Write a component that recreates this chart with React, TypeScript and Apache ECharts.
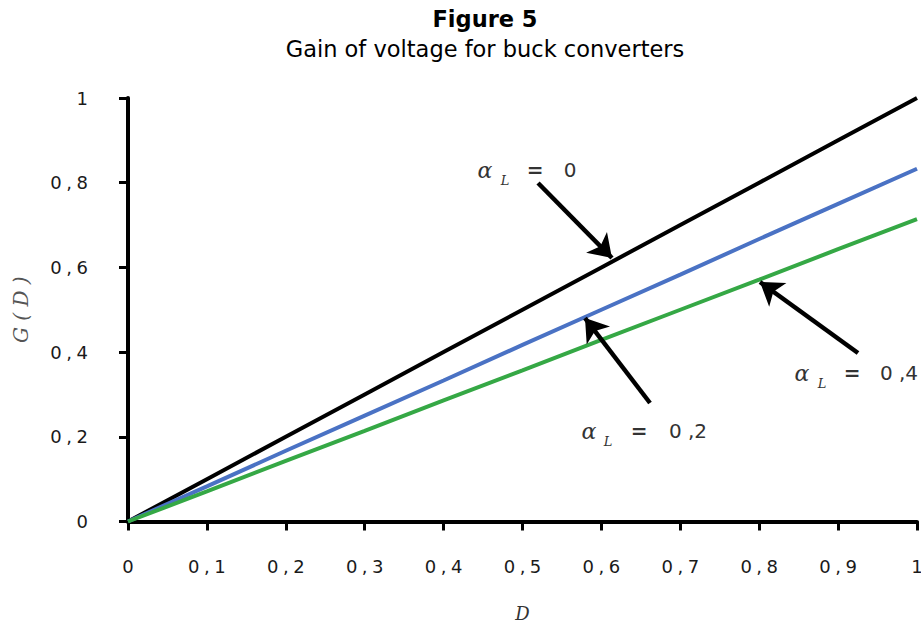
import React, { useEffect, useRef } from "react";
import * as echarts from "echarts";

// Data
const dutyCycle = [0, 0.1, 0.2, 0.3, 0.4, 0.5, 0.6, 0.7, 0.8, 0.9, 1];
const gainAlpha0 = [0, 0.1, 0.2, 0.3, 0.4, 0.5, 0.6, 0.7, 0.8, 0.9, 1];
const gainAlpha02 = [0, 0.083, 0.167, 0.25, 0.333, 0.417, 0.5, 0.583, 0.667, 0.75, 0.833];
const gainAlpha04 = [0, 0.071, 0.143, 0.214, 0.286, 0.357, 0.429, 0.5, 0.571, 0.643, 0.714];
const seriesNames = ["αL = 0", "αL = 0,2", "αL = 0,4"];
const seriesColors = ["#000000", "#4a72c4", "#35a845"];
// arrow annotations, in data coordinates [D, G]: from label towards curve
const arrows = [
  { from: [0.5197, 0.7993], to: [0.6134, 0.6222] },
  { from: [0.6616, 0.2798], to: [0.5792, 0.4805] },
  { from: [0.9252, 0.3979], to: [0.801, 0.5655] },
];
const annotationValues = ["0", "0 ,2", "0 ,4"];

const SP = "\u2005";
const fmt = (v: number) => {
  if (v === 0) return "0";
  if (v === 1) return "1";
  return "0" + SP + "," + SP + String(Math.round(v * 10));
};

export default function App() {
  const ref = useRef<HTMLDivElement>(null);
  useEffect(() => {
    if (!ref.current) return;
    const chart = echarts.init(ref.current, undefined, { renderer: "svg" });
    const gains = [gainAlpha0, gainAlpha02, gainAlpha04];
    const series: any[] = gains.map((g, i) => ({
      name: seriesNames[i],
      type: "line",
      data: dutyCycle.map((d, j) => [d, g[j]]),
      showSymbol: false,
      lineStyle: { color: seriesColors[i], width: 4 },
      itemStyle: { color: seriesColors[i] },
      z: 2 + i,
      silent: true,
    }));
    series[0].markLine = {
      silent: true,
      symbol: ["none", "arrow"],
      symbolSize: 22,
      lineStyle: { color: "#000", width: 4.5, type: "solid" },
      itemStyle: { color: "#000" },
      label: { show: false },
      emphasis: { disabled: true },
      z: 10,
      data: arrows.map((a) => [{ coord: a.from }, { coord: a.to }]),
    };

    const textColor = "#333";
    const labelPos = [
      { a: [485, 170], l: [505, 180], e: [535, 170], v: [570, 170] },
      { a: [589, 431], l: [608, 441], e: [639, 431], v: [688, 431] },
      { a: [802, 373], l: [822, 383], e: [852, 373], v: [899, 373] },
    ];
    const graphics: any[] = [
      {
        type: "text",
        x: 485,
        y: 19,
        style: {
          text: "Figure 5",
          font: "bold 22.5px 'DejaVu Sans'",
          fill: "#000",
          textAlign: "center",
          textVerticalAlign: "middle",
        },
      },
      {
        type: "text",
        x: 485,
        y: 49,
        style: {
          text: "Gain of voltage for buck converters",
          font: "22.5px 'DejaVu Sans'",
          fill: "#000",
          textAlign: "center",
          textVerticalAlign: "middle",
        },
      },
    ];
    labelPos.forEach((p, i) => {
      graphics.push(
        {
          type: "text",
          x: p.a[0],
          y: p.a[1],
          style: { text: "α", font: "italic 22px 'DejaVu Serif'", fill: textColor, textAlign: "center", textVerticalAlign: "middle" },
        },
        {
          type: "text",
          x: p.l[0],
          y: p.l[1],
          style: { text: "L", font: "italic 13px 'DejaVu Serif'", fill: textColor, textAlign: "center", textVerticalAlign: "middle" },
        },
        {
          type: "text",
          x: p.e[0],
          y: p.e[1],
          style: { text: "=", font: "bold 20px 'DejaVu Sans'", fill: textColor, textAlign: "center", textVerticalAlign: "middle" },
        },
        {
          type: "text",
          x: p.v[0],
          y: p.v[1],
          style: { text: annotationValues[i], font: "20px 'DejaVu Sans'", fill: textColor, textAlign: "center", textVerticalAlign: "middle" },
        }
      );
    });

    chart.setOption({
      animation: false,
      backgroundColor: "#fff",
      grid: { left: 128, right: 4, top: 98, bottom: 101.5, containLabel: false, outerBoundsMode: "none" },
      xAxis: {
        type: "value",
        min: 0,
        max: 1,
        interval: 0.1,
        name: "D",
        nameLocation: "middle",
        nameGap: 83,
        nameTextStyle: { fontFamily: "DejaVu Serif", fontStyle: "italic", fontSize: 18, lineHeight: 18, color: "#333" },
        axisLine: { lineStyle: { color: "#000", width: 4 } },
        axisTick: { show: true, length: 9, lineStyle: { color: "#000", width: 3 } },
        axisLabel: { formatter: fmt, margin: 36, fontFamily: "DejaVu Sans", fontSize: 18, color: "#1a1a1a" },
        splitLine: { show: false },
      },
      yAxis: {
        type: "value",
        min: 0,
        max: 1,
        interval: 0.2,
        name: "G ( D )",
        nameLocation: "middle",
        nameGap: 97,
        nameRotate: 90,
        nameTextStyle: { fontFamily: "DejaVu Serif", fontStyle: "italic", fontSize: 20, color: "#555" },
        axisLine: { show: true, lineStyle: { color: "#000", width: 4 } },
        axisTick: { show: true, length: 9, lineStyle: { color: "#000", width: 3 } },
        axisLabel: { formatter: fmt, margin: 40, fontFamily: "DejaVu Sans", fontSize: 18, color: "#1a1a1a" },
        splitLine: { show: false },
      },
      series,
      graphic: graphics,
    });
    return () => chart.dispose();
  }, []);
  return (
    <div
      ref={ref}
      style={{ position: "fixed", left: 0, top: 0, width: 921, height: 623 }}
    />
  );
}
